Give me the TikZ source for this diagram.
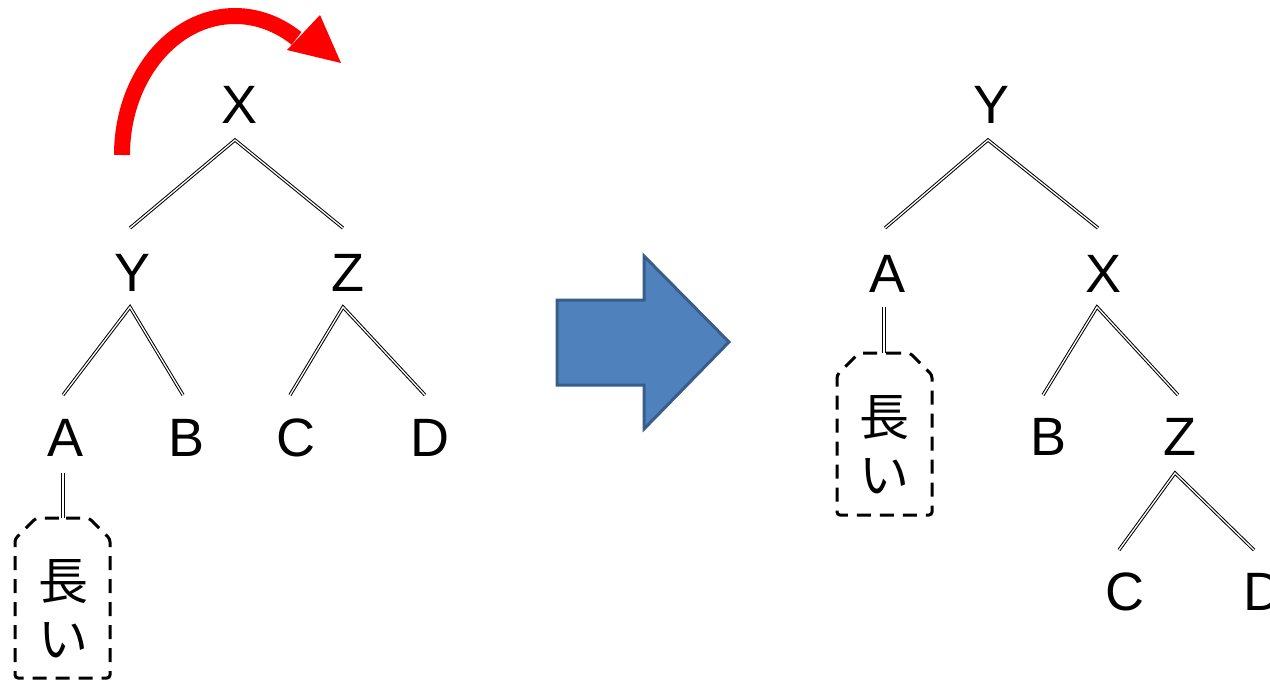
\documentclass[tikz,border=0pt]{standalone}
\usepackage{fontspec}
\newfontfamily\arialf{Liberation Sans}
\newfontfamily\cjkf{Noto Sans CJK JP}
\usetikzlibrary{calc}
\definecolor{bfill}{RGB}{79,129,189}
\definecolor{bedge}{RGB}{56,93,138}
\tikzset{
  lab/.style={anchor=base, inner sep=0pt, font=\arialf\fontsize{54}{54}\selectfont},
  tagtext/.style={inner sep=0pt, align=center, font=\cjkf\fontsize{50}{58}\selectfont},
  branch/.style={draw=black, line width=1pt, double=white, double distance=1.3pt, line join=miter},
  shade/.style={draw=black!14, line width=3pt, opacity=0.6},
  tagbox/.style={draw=black, line width=3pt, dash pattern=on 14pt off 9pt, rounded corners=3pt},
  redarc/.style={draw=red, line width=16pt},
  bluearrow/.style={fill=bfill, draw=bedge, line width=3pt, line join=miter},
}
\newcommand{\branchtri}[3]{%
  \draw[shade, xshift=2pt, yshift=-3pt] (#2) -- (#1) -- (#3);
  \draw[branch] (#2) -- (#1) -- (#3);}
\newcommand{\stemline}[2]{%
  \draw[shade, xshift=2pt, yshift=-2pt] (#1) -- (#2);
  \draw[branch] (#1) -- (#2);}
\begin{document}
\begin{tikzpicture}[x=1pt,y=-1pt]
\useasboundingbox (0,0) rectangle (1270,681);
\clip (0,0) rectangle (1270,681);

% ---------- left tree ----------
\node[lab] (lX) at (240,123) {X};
\node[lab] (lY) at (133,291) {Y};
\node[lab] (lZ) at (348,291) {Z};
\node[lab] (lA) at (66,456) {A};
\node[lab] (lB) at (187,456) {B};
\node[lab] (lC) at (296,456) {C};
\node[lab] (lD) at (430,456) {D};

\coordinate (lXt) at (235,140); \coordinate (lXl) at (130,228); \coordinate (lXr) at (343,228);
\coordinate (lYt) at (130,307); \coordinate (lYl) at (63,395);  \coordinate (lYr) at (183,395);
\coordinate (lZt) at (343,307); \coordinate (lZl) at (290,395); \coordinate (lZr) at (425,395);
\coordinate (lSt) at (63,473);  \coordinate (lSb) at (63,518);

\branchtri{lXt}{lXl}{lXr}
\branchtri{lYt}{lYl}{lYr}
\branchtri{lZt}{lZl}{lZr}
\stemline{lSt}{lSb}

\draw[tagbox] (63,518) -- (89,518) -- (110,539) -- (110,678) -- (15,678) -- (15,539) -- (36,518) -- cycle;
\node[tagtext] (ltag) at (63,609) {長\\い};

% red rotation arrow
\draw[redarc] (122,155) arc[start angle=180, end angle=303, x radius=113, y radius=139];
\fill[red] (320,15) -- (341,63) -- (287,50) -- cycle;

% ---------- blue arrow ----------
\draw[bluearrow] (557,300) -- (644,300) -- (644,256) -- (729,342) -- (644,429) -- (644,385) -- (557,385) -- cycle;

% ---------- right tree ----------
\node[lab] (rY) at (991,123) {Y};
\node[lab] (rA) at (888,292) {A};
\node[lab] (rX) at (1103,292) {X};
\node[lab] (rB) at (1048,455) {B};
\node[lab] (rZ) at (1180,455) {Z};
\node[lab] (rC) at (1125,610) {C};
\node[lab] (rD) at (1263,610) {D};

\coordinate (rYt) at (988,140);  \coordinate (rYl) at (885,228);  \coordinate (rYr) at (1098,228);
\coordinate (rXt) at (1097,307); \coordinate (rXl) at (1043,395); \coordinate (rXr) at (1178,395);
\coordinate (rZt) at (1175,473); \coordinate (rZl) at (1119,550); \coordinate (rZr) at (1254,550);
\coordinate (rSt) at (884,307);  \coordinate (rSb) at (884,353);

\branchtri{rYt}{rYl}{rYr}
\branchtri{rXt}{rXl}{rXr}
\branchtri{rZt}{rZl}{rZr}
\stemline{rSt}{rSb}

\draw[tagbox] (884,353) -- (910,353) -- (932,375) -- (932,515) -- (837,515) -- (837,375) -- (859,353) -- cycle;
\node[tagtext] (rtag) at (884,445) {長\\い};
\end{tikzpicture}
\end{document}
